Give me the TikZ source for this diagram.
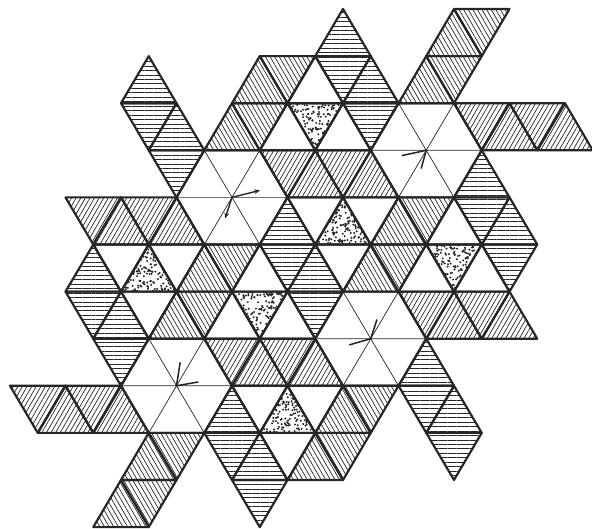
\documentclass[tikz,border=0pt]{standalone}
\usepackage{tikz}
\usetikzlibrary{patterns.meta,arrows.meta}
\definecolor{ink}{gray}{0.15}
% triangle #2 in band #3 (apex up when #2+#3 is even)
\newcommand{\tri}[3]{%
  \pgfmathtruncatemacro{\tpar}{mod(#2+#3,2)}%
  \ifnum\tpar=0
    \path[#1] (#2,#3) -- (#2-1,#3+1) -- (#2+1,#3+1) -- cycle;
  \else
    \path[#1] (#2-1,#3) -- (#2+1,#3) -- (#2,#3+1) -- cycle;
  \fi}
% white hexagon round lattice point (#1,#2)
\newcommand{\hexa}[2]{%
  \draw[spoke] (#1-2,#2) -- (#1+2,#2) (#1-1,#2-1) -- (#1+1,#2+1) (#1+1,#2-1) -- (#1-1,#2+1);
  \draw[rim] (#1-1,#2-1) -- (#1+1,#2-1) -- (#1+2,#2) -- (#1+1,#2+1) -- (#1-1,#2+1) -- (#1-2,#2) -- cycle;}

\begin{document}
\begin{tikzpicture}[x={(0.8325cm,0)}, y={(0,-1.413cm)},
  rim/.style={draw=ink,line width=1.85pt,line join=round},
  spoke/.style={draw=ink,line width=0.6pt},
  hatchH/.style={pattern={Lines[angle=0,distance=3.8pt,line width=0.6pt]},pattern color=ink},
  hatchP/.style={pattern={Lines[angle=60,distance=3.4pt,line width=0.6pt]},pattern color=ink},
  hatchQ/.style={pattern={Lines[angle=-60,distance=3.4pt,line width=0.6pt]},pattern color=ink},
  stip/.style={path picture={\foreach \k in {1,...,230}{
      \fill[ink] ([shift={(2*rnd,-rnd)}]path picture bounding box.south west) circle[radius=0.95pt];}}},
  arr/.style={draw=ink,line width=1.2pt,-{Stealth[length=5pt,width=4pt]}},
  tick/.style={draw=ink,line width=1.3pt,line cap=round}]
\useasboundingbox (-0.3604,-0.1911) rectangle (20.973,11.040);
\pgfmathsetseed{7}

% ---- strips hatched across
\foreach \m/\r in {12/0, 5/1,12/1,13/1, 5/2,6/2,13/2, 6/3,17/3, 10/4,17/4,18/4,
    3/5,10/5,11/5,18/5, 3/6,4/6,11/6, 4/7,15/7, 8/8,15/8,16/8, 8/9,9/9,16/9, 9/10}
  {\tri{hatchH,rim}{\m}{\r}}
\foreach \m/\r in {17/2,18/2,19/2,20/2, 10/3,11/3,12/3,13/3, 3/4,4/4,5/4,6/4,
    15/6,16/6,17/6,18/6, 8/7,9/7,10/7,11/7, 1/8,2/8,3/8,4/8}
  {\tri{hatchP,rim}{\m}{\r}}
\foreach \m/\r in {16/0,17/0, 9/1,10/1,15/1,16/1, 8/2,9/2, 14/4,15/4, 7/5,8/5,13/5,14/5,
    6/6,7/6, 12/8,13/8, 5/9,6/9,11/9,12/9, 4/10,5/10}
  {\tri{hatchQ,rim}{\m}{\r}}

% ---- single triangles
\foreach \m/\r in {11/2, 12/4, 5/5, 16/5, 9/6, 10/8}
  {\tri{stip,rim}{\m}{\r}}
\foreach \m/\r in {11/1, 10/2,12/2, 11/4,13/4,16/4, 4/5,6/5,9/5,12/5,15/5,17/5,
    5/6,8/6,10/6, 9/8,11/8, 10/9}
  {\tri{rim}{\m}{\r}}

% ---- white hexagons
\hexa{8}{4}
\hexa{15}{3}
\hexa{6}{8}
\hexa{13}{7}
\coordinate (hexA) at (8,4);
\coordinate (hexB) at (15,3);
\coordinate (hexC) at (6,8);
\coordinate (hexD) at (13,7);

% ---- arrows
\draw[arr] (hexA) -- ++(1.01,-0.15);
\draw[arr] (hexA) -- ++(-0.25,0.45);
\draw[tick] (hexB) -- ++(-0.86,0.11);
\draw[tick] (hexB) -- ++(-0.18,0.38);
\draw[tick] (hexC) -- ++(0.13,-0.49);
\draw[tick] (hexC) -- ++(0.77,-0.08);
\draw[tick] (hexD) -- ++(0.22,-0.40);
\draw[tick] (hexD) -- ++(-0.76,0.13);
\end{tikzpicture}
\end{document}
